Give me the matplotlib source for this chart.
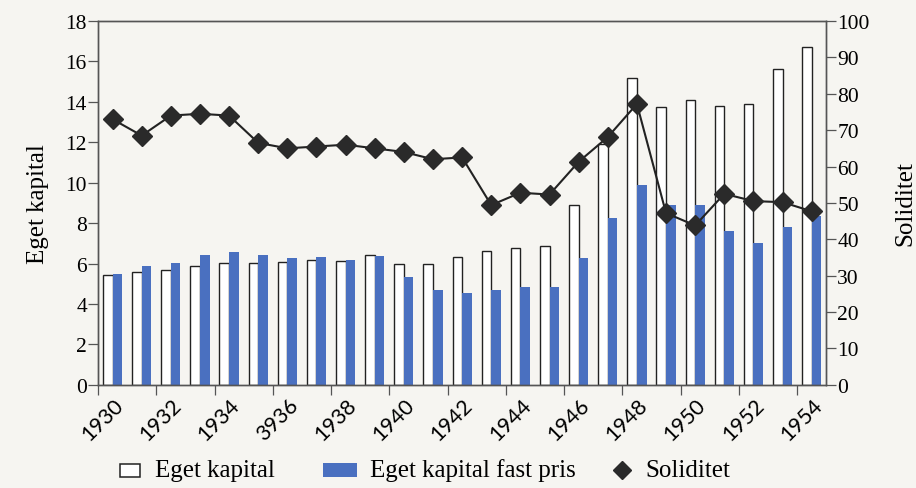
import numpy as np
import matplotlib.pyplot as plt
from matplotlib.patches import Rectangle
from matplotlib.lines import Line2D

# Datos
anios = list(range(1930, 1955))
etiquetas = ['1930', '1932', '1934', '3936', '1938', '1940', '1942',
             '1944', '1946', '1948', '1950', '1952', '1954']

eget_kapital = [5.45, 5.58, 5.7, 5.9, 6.05, 6.05, 6.07, 6.18, 6.15, 6.42,
                6.0, 6.0, 6.3, 6.6, 6.75, 6.85, 8.9, 11.9, 15.2, 13.75,
                14.1, 13.8, 13.9, 15.65, 16.7]

fast_pris = [5.5, 5.9, 6.05, 6.43, 6.56, 6.44, 6.26, 6.3, 6.2, 6.35,
             5.31, 4.7, 4.55, 4.7, 4.85, 4.85, 6.25, 8.25, 9.9, 8.9,
             8.9, 7.6, 7.0, 7.8, 8.35]

soliditet = [73, 68.5, 74, 74.5, 74, 66.5, 65, 65.5, 66, 65, 64, 62, 62.5,
             49.4, 52.8, 52.3, 61.3, 68.1, 77.2, 47.2, 43.8, 52.5, 50.5,
             50.2, 47.7]

fondo = '#f6f5f1'
azul = '#4a70c0'
gris = '#555555'
negro = '#222222'

plt.rcParams['font.family'] = ['Liberation Serif', 'DejaVu Serif']

W, H = 916, 489
fig = plt.figure(figsize=(W / 100, H / 100), dpi=100, facecolor=fondo)
ax = fig.add_axes([0.107, 0.211, 0.795, 0.744])
ax.set_facecolor(fondo)

x = np.arange(len(anios))
ancho = 0.33

ax.bar(x - ancho / 2, eget_kapital, ancho, color='white', edgecolor=negro, linewidth=1.0)
ax.bar(x + ancho / 2, fast_pris, ancho, color=azul, edgecolor='none')

ax.set_xlim(-0.5, len(anios) - 0.5)
ax.set_ylim(0, 18)
ax.set_yticks(range(0, 19, 2))
ax.tick_params(axis='y', direction='out', length=7, width=0.9, color=gris,
               labelsize=15.5, pad=1)
ax.set_ylabel('Eget kapital', fontsize=18, labelpad=12)

# Marcas en los limites de cada anio, etiquetas cada dos anios
ax.set_xticks(np.arange(-0.5, len(anios), 1), minor=True)
ax.tick_params(axis='x', which='minor', direction='out', length=7, width=0.9, color=gris)
ax.set_xticks(np.arange(0, len(anios), 2) + 0.5)
ax.set_xticklabels(etiquetas, rotation=45, ha='right', fontsize=15.5,
                   family=['Lato', 'DejaVu Sans'])
ax.tick_params(axis='x', which='major', length=0, pad=7)

for s in ax.spines.values():
    s.set_color(gris)
    s.set_linewidth(1.0)

# Eje derecho: Soliditet
ax2 = ax.twinx()
ax2.plot(x, soliditet, color=negro, linewidth=1.5, marker='D', markersize=10.5,
         markerfacecolor='#2a2a2a', markeredgecolor='#2a2a2a')
ax2.set_ylim(0, 100)
ax2.set_yticks(range(0, 101, 10))
ax2.tick_params(axis='y', direction='out', length=7, width=0.9, color=gris,
                labelsize=15.5, pad=1)
ax2.set_ylabel('Soliditet', fontsize=18, labelpad=18)
for s in ax2.spines.values():
    s.set_color(gris)
    s.set_linewidth(1.0)

# Leyenda dibujada a mano (posiciones en pixeles de la figura)
yl = 1 - 471 / H
fig.add_artist(Rectangle((120 / W, 1 - 478 / H), 20 / W, 13 / H, transform=fig.transFigure,
                         facecolor='white', edgecolor=negro, linewidth=1.1))
fig.text(155 / W, yl, 'Eget kapital', fontsize=18, va='center')
fig.add_artist(Rectangle((323 / W, 1 - 478 / H), 34 / W, 14 / H, transform=fig.transFigure,
                         facecolor=azul, edgecolor='none'))
fig.text(370 / W, yl, 'Eget kapital fast pris', fontsize=18, va='center')
fig.add_artist(Line2D([621.5 / W], [yl], transform=fig.transFigure, marker='D',
                      markersize=9, color='#2a2a2a', linestyle='none'))
fig.text(645 / W, yl, 'Soliditet', fontsize=18, va='center')

plt.savefig('out.png', dpi=100, facecolor=fondo)
